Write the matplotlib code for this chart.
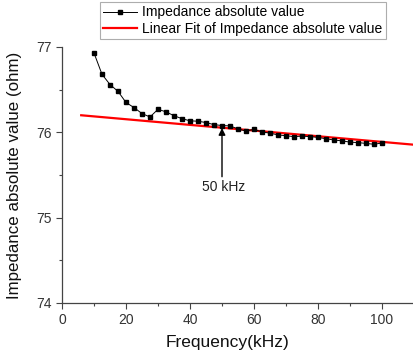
import matplotlib
matplotlib.use("Agg")
import matplotlib.pyplot as plt
import numpy as np

plt.rcParams['font.family'] = ['Liberation Sans', 'DejaVu Sans']

freq_khz = [10, 12.5, 15, 17.5, 20, 22.5, 25, 27.5, 30, 32.5, 35, 37.5, 40, 42.5,
            45, 47.5, 50, 52.5, 55, 57.5, 60, 62.5, 65, 67.5, 70, 72.5, 75, 77.5,
            80, 82.5, 85, 87.5, 90, 92.5, 95, 97.5, 100]
impedance = [76.93, 76.68, 76.56, 76.48, 76.35, 76.29, 76.22, 76.18, 76.27, 76.24,
             76.195, 76.16, 76.135, 76.13, 76.115, 76.09, 76.08, 76.075, 76.04,
             76.015, 76.035, 76.005, 75.99, 75.97, 75.96, 75.95, 75.955, 75.95,
             75.94, 75.925, 75.91, 75.90, 75.885, 75.88, 75.87, 75.86, 75.875]
fit_intercept = 76.22
fit_slope = -0.00332
fit_x = [6, 110]
fit_y = [fit_intercept + fit_slope * x for x in fit_x]

xticks = [0, 20, 40, 60, 80, 100]
yticks = [74, 75, 76, 77]

fig = plt.figure(figsize=(4.14, 3.53), dpi=100)
ax = fig.add_axes([62/414, 1 - 303/353, 1 - 62/414, (303 - 47)/353])

ax.plot(freq_khz, impedance, color='black', lw=0.7, marker='s', ms=3.4,
        label='Impedance absolute value', clip_on=False, zorder=3)
ax.plot(fit_x, fit_y, color='#ff0000', lw=1.6,
        label='Linear Fit of Impedance absolute value', zorder=2)

ax.set_xlim(0, 108.3)
ax.set_ylim(74, 77)
ax.set_xticks(xticks)
ax.set_yticks(yticks)
ax.set_xticks([10, 30, 50, 70, 90, 110], minor=True)
ax.set_yticks([74.5, 75.5, 76.5], minor=True)
ax.tick_params(which='major', direction='out', length=4, width=0.8,
               labelsize=10, colors='#444444', labelcolor='#333333')
ax.tick_params(which='minor', direction='out', length=2.5, width=0.8, colors='#444444')
for s in ['top', 'right']:
    ax.spines[s].set_visible(False)
for s in ['left', 'bottom']:
    ax.spines[s].set_color('#444444')
    ax.spines[s].set_linewidth(0.9)

ax.set_xlabel('Frequency(kHz)', fontsize=12.5, color='#111111')
ax.xaxis.set_label_coords((228 - 62) / (414 - 62), -0.125)
ax.set_ylabel('Impedance absolute value (ohm)', fontsize=12.2, color='#111111')
ax.yaxis.set_label_coords(-(62 - 22) / (414 - 62), 0.5)

ax.annotate('', xy=(50, 76.05), xytext=(50, 75.48),
            arrowprops=dict(arrowstyle='-|>', color='black', lw=1.0,
                            mutation_scale=10, shrinkA=0, shrinkB=0))
ax.text(50.5, 75.36, '50 kHz', ha='center', va='center', fontsize=10, color='#222222')

leg = fig.legend(loc='upper left', bbox_to_anchor=(100/414, 1 - 2/353),
                 fontsize=10, frameon=True, fancybox=False, borderpad=0.25,
                 labelspacing=0.15, handlelength=2.4, handletextpad=0.4,
                 borderaxespad=0)
leg.get_frame().set_edgecolor('#999999')
leg.get_frame().set_linewidth(0.8)

fig.savefig('out.png', dpi=100)
